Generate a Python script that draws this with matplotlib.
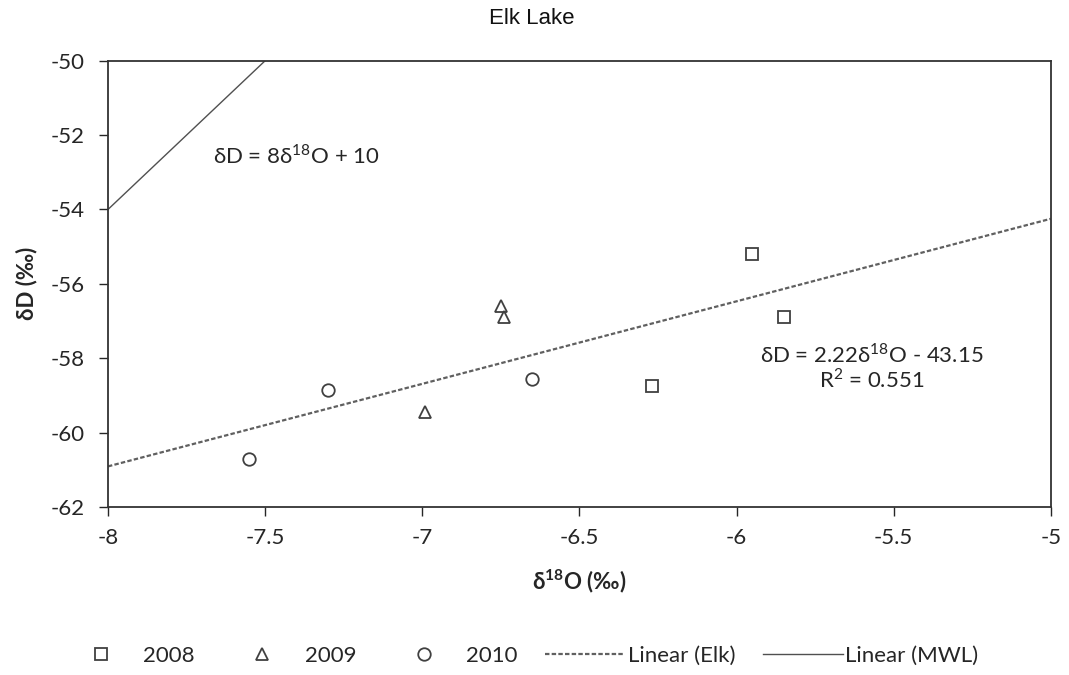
import matplotlib
matplotlib.use("Agg")
import matplotlib.pyplot as plt
import numpy as np

# d18O / dD samples for each year
x_2008 = [-5.95, -5.85, -6.27]
y_2008 = [-55.2, -56.9, -58.75]
x_2009 = [-6.75, -6.74, -6.99]
y_2009 = [-56.6, -56.9, -59.45]
x_2010 = [-7.55, -7.30, -6.65]
y_2010 = [-60.7, -58.85, -58.55]

# fitted lines: slope, intercept
elk_fit = (2.22, -43.15)
mwl_fit = (8.0, 10.0)
elk_r2 = 0.551

x_ticks = [-8, -7.5, -7, -6.5, -6, -5.5, -5]
y_ticks = [-50, -52, -54, -56, -58, -60, -62]

plt.rcParams['font.family'] = ['Lato', 'DejaVu Sans']
plt.rcParams['axes.unicode_minus'] = False
plt.rcParams['mathtext.fontset'] = 'custom'
plt.rcParams['mathtext.rm'] = 'Lato'
plt.rcParams['mathtext.bf'] = 'Lato:bold'
ink = '#404040'
txt = '#262626'

fig = plt.figure(figsize=(10.69, 6.75), dpi=100)
ax = fig.add_axes([0.101, 0.249, 0.882, 0.661])

mk = dict(linestyle='none', markerfacecolor='none', markeredgecolor=ink,
          markeredgewidth=1.3, markersize=9)
ax.plot(x_2008, y_2008, marker='s', label='2008', **mk)
ax.plot(x_2009, y_2009, marker='^', label='2009', **mk)
ax.plot(x_2010, y_2010, marker='o', label='2010', **mk)

xs = np.array([-8, -5])
ax.plot(xs, elk_fit[0] * xs + elk_fit[1], color='#606060', lw=1.6,
        linestyle=(0, (2, 1)), label='Linear (Elk)')
ax.plot(xs, mwl_fit[0] * xs + mwl_fit[1], color='#505050', lw=1.0,
        label='Linear (MWL)')

ax.set_xlim(-8, -5)
ax.set_ylim(-62, -50)
ax.set_xticks(x_ticks)
ax.set_xticklabels([f'{v:g}' for v in x_ticks])
ax.set_yticks(y_ticks)
ax.tick_params(axis='both', labelsize=16, colors=txt, direction='out',
               length=6.5, width=1)
ax.tick_params(axis='x', pad=9)
ax.tick_params(axis='y', pad=10)
for s in ax.spines.values():
    s.set_color('#333333')
    s.set_linewidth(1.3)

ax.set_xlabel(r'δ$^{\mathbf{18}}$O (‰)', fontsize=16, fontweight='bold',
              labelpad=14, color=txt)
ax.set_ylabel('δD (‰)', fontsize=16, fontweight='bold', labelpad=10,
              color=txt)

ax.text(-7.40, -52.55, r'δD = 8δ$^{\mathrm{18}}$O + 10', fontsize=16,
        color=txt, ha='center', va='center')
ax.text(-5.57, -58.25,
        f'δD = {elk_fit[0]:.2f}δ' + r'$^{\mathrm{18}}$' + f'O - {-elk_fit[1]:.2f}\n'
        + r'R$^{\mathrm{2}}$' + f' = {elk_r2:.3f}',
        fontsize=16, color=txt, ha='center', va='center', linespacing=1.05)

fig.text(0.497, 0.973, 'Elk Lake', fontsize=16, family='Liberation Sans',
         ha='center', va='center', color='#111111')

leg = fig.legend(loc='center', bbox_to_anchor=(0.486, 0.028), ncol=5,
                 frameon=False, fontsize=16, handlelength=3.6,
                 columnspacing=1.25, handletextpad=0.1)
for t in leg.get_texts():
    t.set_color(txt)

fig.savefig('out.png', dpi=100)
